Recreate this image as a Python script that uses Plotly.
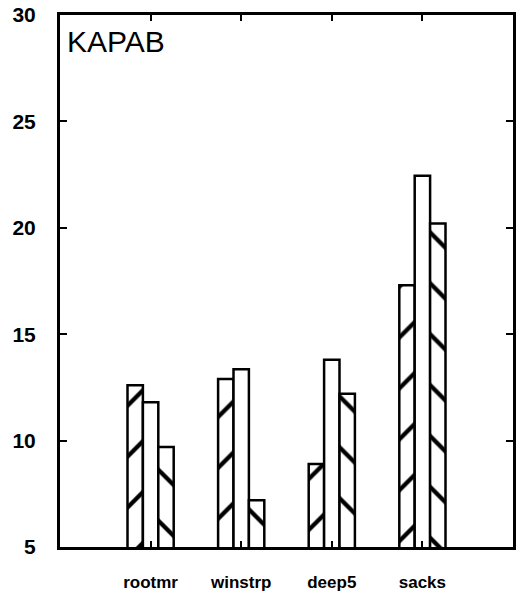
import plotly.graph_objects as go

# Benchmark programs and the three measured series for each
programs = ["rootmr", "winstrp", "deep5", "sacks"]
series_a = [12.6, 12.9, 8.9, 17.3]
series_b = [11.8, 13.35, 13.8, 22.45]
series_c = [9.7, 7.2, 12.2, 20.2]

y_ticks = [5, 10, 15, 20, 25, 30]

FONT = "Liberation Sans, Arial, sans-serif"

fig = go.Figure()
for vals, shape in [(series_a, "/"), (series_b, ""), (series_c, "\\")]:
    fig.add_trace(go.Bar(
        x=programs,
        y=vals,
        marker=dict(
            color="white",
            line=dict(color="black", width=2.5),
            pattern=dict(shape=shape, fgcolor="black", bgcolor="white",
                         fgopacity=1, size=36, solidity=0.12,
                         fillmode="overlay"),
        ),
        showlegend=False,
    ))

fig.update_layout(
    width=521,
    height=596,
    margin=dict(l=60, r=8, t=15, b=49),
    paper_bgcolor="white",
    plot_bgcolor="white",
    barmode="group",
    bargap=0.49,
    bargroupgap=0,
    font=dict(family=FONT, color="black"),
    annotations=[dict(
        text="KAPAB", xref="paper", yref="paper", x=0.012, y=0.985,
        xanchor="left", yanchor="top", showarrow=False,
        font=dict(size=30, family=FONT, color="black"),
    )],
)

fig.update_xaxes(
    range=[-1, 4],
    automargin=False,
    showline=True, linecolor="black", linewidth=3, mirror="ticks",
    ticks="inside", ticklen=6, tickwidth=1.5, tickcolor="black",
    tickfont=dict(size=17, family=FONT, color="black", weight="bold"),
    ticklabelstandoff=18,
    showgrid=False, zeroline=False,
)
fig.update_yaxes(
    range=[5, 30],
    automargin=False,
    tickvals=y_ticks,
    showline=True, linecolor="black", linewidth=3, mirror="ticks",
    ticks="inside", ticklen=7, tickwidth=1.5, tickcolor="black",
    tickfont=dict(size=21, family=FONT, color="black", weight="bold"),
    ticklabelstandoff=17,
    showgrid=False, zeroline=False,
)

fig.write_html("out.html")
